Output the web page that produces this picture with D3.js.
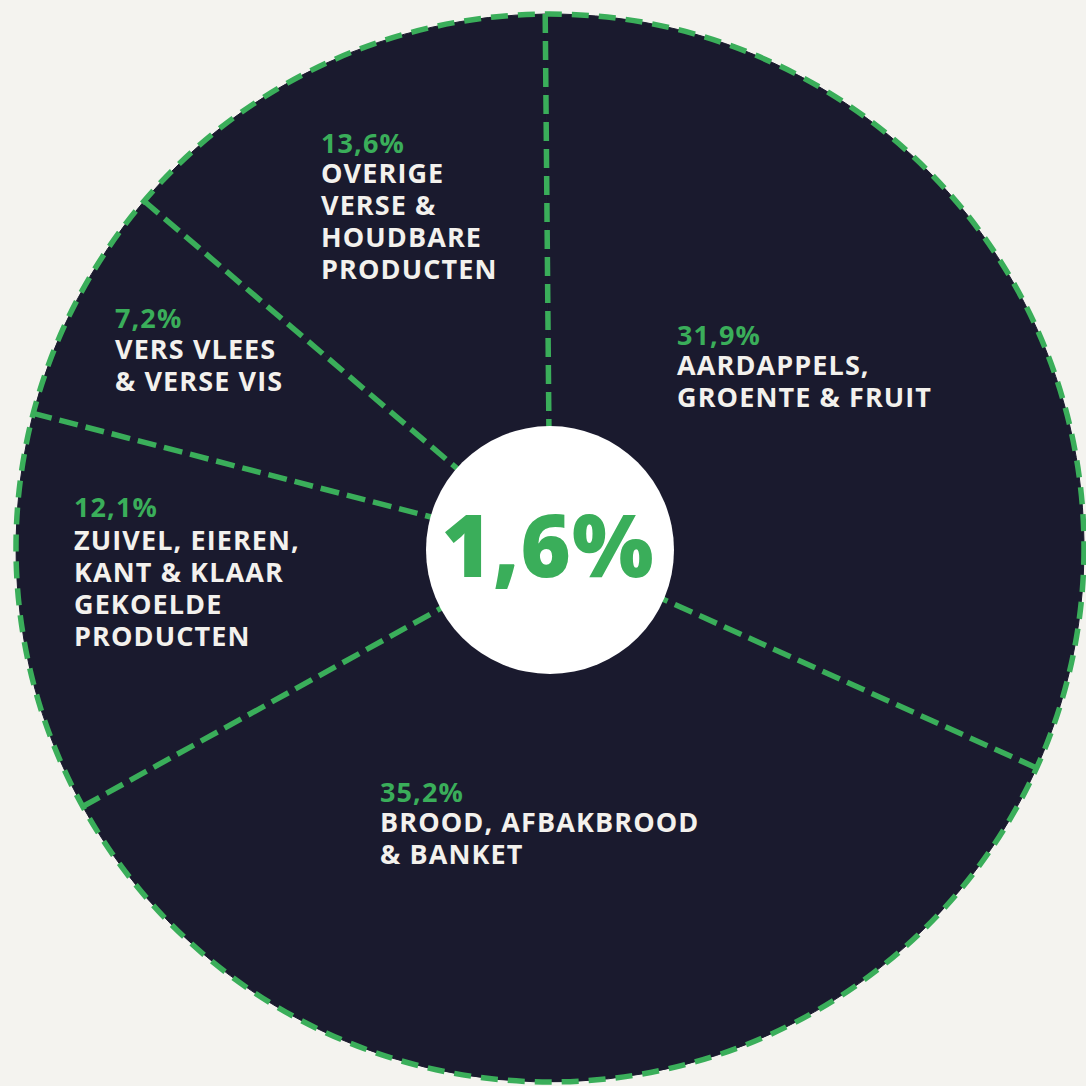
<!DOCTYPE html>
<html>
<head>
<meta charset="utf-8">
<script src="https://cdn.jsdelivr.net/npm/d3@7"></script>
<style>
  html, body { margin: 0; padding: 0; background: #f4f3ef; }
  svg { display: block; }
</style>
</head>
<body>
<div id="chart"></div>
<script>
////////// Data ///////////

var shares = [31.9, 35.2, 12.1, 7.2, 13.6];
var labelLines = [
  ["AARDAPPELS,", "GROENTE & FRUIT"],
  ["BROOD, AFBAKBROOD", "& BANKET"],
  ["ZUIVEL, EIEREN,", "KANT & KLAAR", "GEKOELDE", "PRODUCTEN"],
  ["VERS VLEES", "& VERSE VIS"],
  ["OVERIGE", "VERSE &", "HOUDBARE", "PRODUCTEN"]
];
var totalChange = 1.6;

// where each label block starts (left x, baseline of the percentage)
var labelAnchor = [
  { x: 677, y: 345, gap: 30 },
  { x: 380, y: 802, gap: 30 },
  { x: 74,  y: 517, gap: 33 },
  { x: 115, y: 328, gap: 31 },
  { x: 321, y: 153, gap: 30 }
];

////////// Display pie ///////////

var width = 1086, height = 1086;
var cx = 550, cy = 548, radius = 534, holeRadius = 124;
var navy = "#1a1a2e", green = "#3aae5a", paper = "#f3f1ed";
var font = "'Open Sans', 'Noto Sans', sans-serif";

var nl = d3.formatLocale({ decimal: ",", thousands: ".", grouping: [3], currency: ["€", ""] });
var pct = nl.format(".1f");

var svg = d3.select("#chart")
  .append("svg")
  .attr("width", width)
  .attr("height", height);

var g = svg.append("g")
  .attr("transform", "translate(" + cx + "," + cy + ")");

var pie = d3.pie().sort(null).value(function(d) { return d; })
  .startAngle(-0.009).endAngle(2 * Math.PI - 0.009);
var arcs = pie(shares);

var arc = d3.arc().innerRadius(0).outerRadius(radius);

// slices
g.selectAll("path.slice")
  .data(arcs)
  .enter().append("path")
  .attr("class", "slice")
  .attr("d", arc)
  .style("fill", navy)
  .style("stroke", navy)
  .style("stroke-width", 1);

// dashed separators, drawn from the rim inwards
g.selectAll("line.sep")
  .data(arcs)
  .enter().append("line")
  .attr("class", "sep")
  .attr("x1", function(d) { return radius * Math.sin(d.startAngle); })
  .attr("y1", function(d) { return -radius * Math.cos(d.startAngle); })
  .attr("x2", 0)
  .attr("y2", 0)
  .style("stroke", green)
  .style("stroke-width", 5.5)
  .style("stroke-dasharray", "19,8");

// dashed rim
g.append("circle")
  .attr("r", radius)
  .style("fill", "none")
  .style("stroke", green)
  .style("stroke-width", 5.5)
  .style("stroke-dasharray", "17,10");

// white hole with the total
svg.append("circle")
  .attr("cx", 550)
  .attr("cy", 550)
  .attr("r", holeRadius)
  .style("fill", "#ffffff");

svg.append("text")
  .attr("x", 548)
  .attr("y", 577)
  .attr("text-anchor", "middle")
  .style("font-family", font)
  .style("font-weight", 800)
  .style("font-size", "86px")
  .style("letter-spacing", "1px")
  .style("fill", green)
  .text(pct(totalChange) + "%");

// labels: one text block per slice, percentage on top
var lab = svg.selectAll("text.label")
  .data(arcs)
  .enter().append("text")
  .attr("class", "label")
  .attr("transform", function(d, i) {
    return "translate(" + labelAnchor[i].x + "," + labelAnchor[i].y + ")"; })
  .style("font-family", font)
  .style("font-weight", 700)
  .style("font-size", "27px")
  .style("letter-spacing", "1.1px");

lab.append("tspan")
  .attr("x", 0)
  .attr("y", 0)
  .style("fill", green)
  .text(function(d) { return pct(d.data) + "%"; });

lab.each(function(d, i) {
  var el = d3.select(this);
  labelLines[i].forEach(function(line, j) {
    el.append("tspan")
      .attr("x", 0)
      .attr("y", labelAnchor[i].gap + j * 32)
      .style("fill", paper)
      .text(line);
  });
});
</script>
</body>
</html>
